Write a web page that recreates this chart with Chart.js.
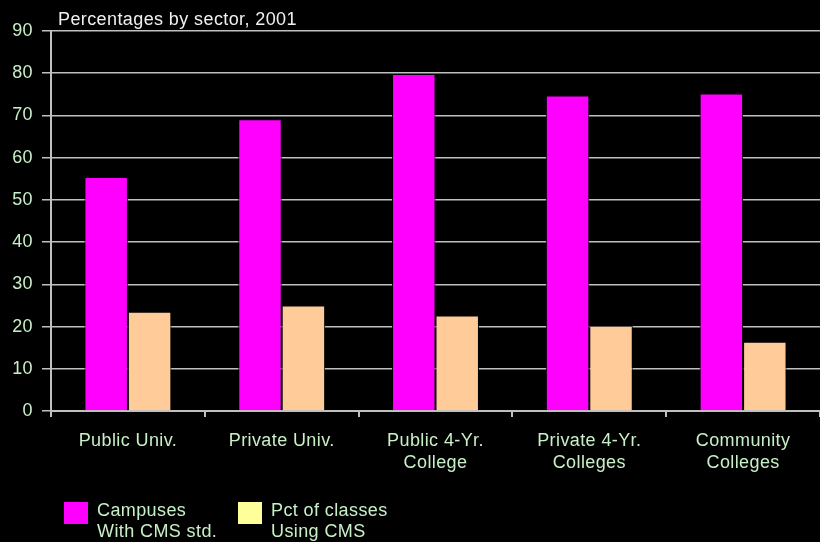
<!DOCTYPE html>
<html>
<head>
<title>CMS use by sector</title>
<script src="https://cdn.jsdelivr.net/npm/chart.js@4/dist/chart.umd.min.js"></script>
<style>
  body { margin:0; background:#000; }
  #wrap { width:820px; height:542px; }
</style>
</head>
<body>
<div id="wrap"><canvas id="myChart" width="820" height="542"></canvas></div>
<script>
// data
const sectors = [
  ['Public Univ.'],
  ['Private Univ.'],
  ['Public 4-Yr.', 'College'],
  ['Private 4-Yr.', 'Colleges'],
  ['Community', 'Colleges']
];
const campusesCMS = [55.4, 69.1, 79.8, 74.7, 75.2];
const classesCMS = [23.5, 25.0, 22.6, 20.2, 16.4];
const seriesNames = [['Campuses', 'With CMS std.'], ['Pct of classes', 'Using CMS']];
const barColors = ['#ff00ff', '#ffcc99'];
const legendColors = ['#ff00ff', '#ffff99'];
const yTicks = [0, 10, 20, 30, 40, 50, 60, 70, 80, 90];
const chartTitle = 'Percentages by sector, 2001';

const FONT = '"Liberation Sans", Arial, sans-serif';
const green = '#c8f0c8';
const grey = '#c0c0c0';

// title + two-line legend, drawn by hand
const extras = {
  id: 'extras',
  beforeDraw(chart) {
    // the original text is set a little loose
    chart.ctx.letterSpacing = '0.4px';
  },
  afterDraw(chart) {
    const ctx = chart.ctx;
    const area = chart.chartArea;
    ctx.save();
    ctx.font = '18px ' + FONT;
    ctx.textBaseline = 'alphabetic';
    ctx.textAlign = 'left';
    ctx.fillStyle = '#f0f0f0';
    ctx.fillText(chartTitle, area.left + 7, 25);

    let x = 64;
    for (let i = 0; i < seriesNames.length; i++) {
      ctx.fillStyle = legendColors[i];
      ctx.fillRect(x, 502, 24, 22);
      ctx.fillStyle = green;
      seriesNames[i].forEach((line, j) => ctx.fillText(line, x + 33, 516 + j * 21));
      x += 174;
    }
    ctx.restore();
  }
};

const ctx = document.getElementById('myChart').getContext('2d');
const myChart = new Chart(ctx, {
  type: 'bar',
  data: {
    labels: sectors,
    datasets: [{
      label: seriesNames[0].join(' '),
      data: campusesCMS,
      backgroundColor: barColors[0],
      borderColor: '#000',
      borderWidth: 1
    }, {
      label: seriesNames[1].join(' '),
      data: classesCMS,
      backgroundColor: barColors[1],
      borderColor: '#000',
      borderWidth: 1
    }]
  },
  options: {
    responsive: false,
    animation: false,
    layout: { padding: { top: 31, right: 0, left: 0, bottom: 0 } },
    plugins: {
      legend: { display: false },
      title: { display: false },
      tooltip: { enabled: false }
    },
    datasets: {
      bar: { categoryPercentage: 0.565, barPercentage: 1 }
    },
    scales: {
      x: {
        offset: true,
        grid: { display: true, drawOnChartArea: false, drawTicks: true, tickLength: 6, offset: true, color: grey, lineWidth: 2 },
        border: { display: true, color: grey, width: 2 },
        ticks: {
          color: green,
          font: { family: FONT, size: 18, lineHeight: 1.22 },
          maxRotation: 0,
          autoSkip: false,
          padding: 13
        },
        afterFit(scale) { scale.height = 131; }
      },
      y: {
        min: 0,
        max: 90,
        afterBuildTicks(scale) { scale.ticks = yTicks.map(v => ({ value: v })); },
        grid: { color: grey, lineWidth: 1.5, tickLength: 9 },
        border: { display: true, color: grey, width: 2 },
        ticks: {
          color: green,
          font: { family: FONT, size: 18 },
          padding: 9
        },
        afterFit(scale) { scale.width = 51; }
      }
    }
  },
  plugins: [extras]
});
</script>
</body>
</html>
